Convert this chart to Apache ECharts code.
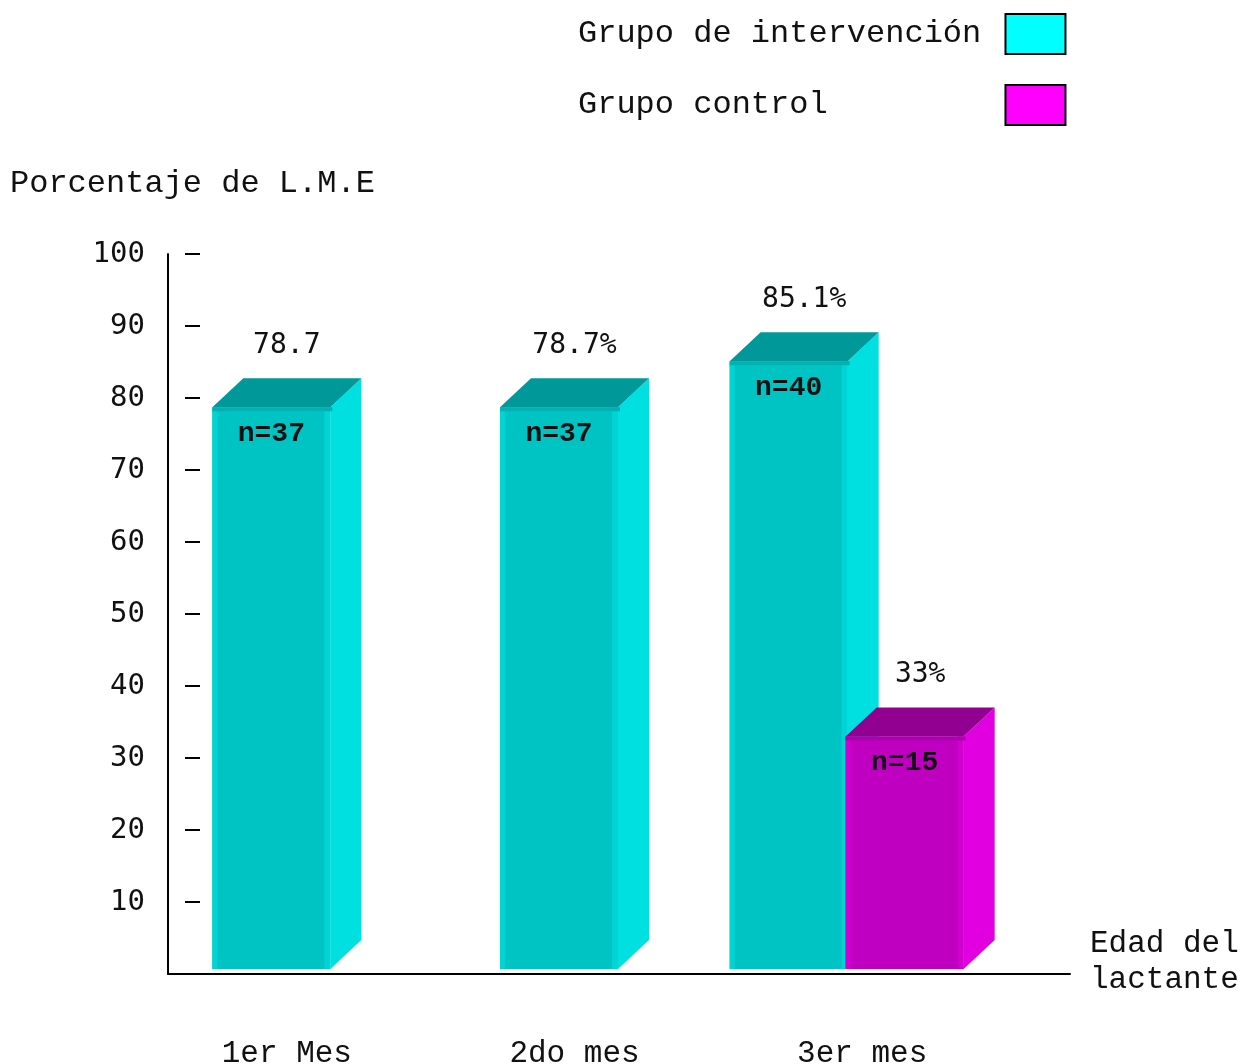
<!DOCTYPE html>
<html>
<head>
<meta charset="utf-8">
<script src="https://cdn.jsdelivr.net/npm/echarts@6/dist/echarts.min.js"></script>
<style>
  html, body { margin: 0; padding: 0; background: #fff; }
  #chart { width: 1248px; height: 1064px; }
</style>
</head>
<body>
<div id="chart"></div>
<script>
// datos
var categories = ['1er Mes', '2do mes', '3er mes'];
var intervencion = [78.7, 78.7, 85.1];
var control = [null, null, 33];
var intervLabels = ['78.7', '78.7%', '85.1%'];
var controlLabels = ['', '', '33%'];
var intervN = ['n=37', 'n=37', 'n=40'];
var controlN = ['', '', 'n=15'];
var yTicks = [10, 20, 30, 40, 50, 60, 70, 80, 90, 100];

var COURIER = "'Liberation Mono', 'Courier New', monospace";
var SANSMONO = "'DejaVu Sans Mono', monospace";
var INK = '#111';

// medidas de la barra 3D
var BW = 118, DX = 31, DY = 29, STEP = 116;

var cyan = { front: '#00C4C4', strip: '#00D4D4', top: '#009898', lip: '#00B2B2', side: '#00E0E0' };
var magenta = { front: '#C000C0', strip: '#D000D0', top: '#920092', lip: '#AE00AE', side: '#E000E0' };

function makeRender (pal, valueLabels, nLabels, isControl) {
    return function (params, api) {
        var i = api.value(0);
        var v = api.value(1);
        var base = api.coord([i, 0]);
        var top = api.coord([i, v]);
        var paired = control[i] != null;
        var x0;
        if (!paired) {
            x0 = base[0] - (BW + DX) / 2;
        } else {
            x0 = base[0] - (BW + STEP + DX) / 2;
            if (isControl) x0 += STEP;
        }
        var x1 = x0 + BW;
        var yT = top[1];
        var yB = base[1] - 5;
        return {
            type: 'group',
            children: [
                { type: 'rect', shape: { x: x0, y: yT, width: BW, height: yB - yT }, style: { fill: pal.front } },
                { type: 'rect', shape: { x: x0, y: yT, width: 5, height: yB - yT }, style: { fill: pal.strip } },
                { type: 'rect', shape: { x: x1 - 6, y: yT, width: 6, height: yB - yT }, style: { fill: pal.strip } },
                { type: 'polygon', shape: { points: [[x1, yT], [x1 + DX, yT - DY], [x1 + DX, yB - DY], [x1, yB]] }, style: { fill: pal.side } },
                { type: 'polygon', shape: { points: [[x0, yT], [x0 + DX, yT - DY], [x1 + DX, yT - DY], [x1, yT]] }, style: { fill: pal.top } },
                { type: 'rect', shape: { x: x0, y: yT, width: BW + 2, height: 4 }, style: { fill: pal.lip } },
                { type: 'text', style: {
                    text: valueLabels[i], x: (x0 + x1 + DX) / 2, y: yT - DY - 33,
                    align: 'center', verticalAlign: 'middle',
                    font: '28px ' + SANSMONO, fill: INK
                } },
                { type: 'text', style: {
                    text: nLabels[i], x: (x0 + x1) / 2, y: yT + 27,
                    align: 'center', verticalAlign: 'middle',
                    font: 'bold 28px ' + COURIER, fill: INK
                } }
            ]
        };
    };
}

var intervData = [];
for (var i = 0; i < intervencion.length; i++) {
    if (intervencion[i] != null) intervData.push([i, intervencion[i]]);
}
var controlData = [];
for (var j = 0; j < control.length; j++) {
    if (control[j] != null) controlData.push([j, control[j]]);
}

var chart = echarts.init(document.getElementById('chart'));
var option = {
    animation: false,
    backgroundColor: '#fff',
    title: {
        text: 'Porcentaje de L.M.E',
        left: 5,
        top: 163,
        textStyle: { fontFamily: COURIER, fontSize: 32, fontWeight: 'normal', color: INK }
    },
    legend: {
        orient: 'vertical',
        left: 573,
        top: 8,
        align: 'right',
        itemWidth: 60,
        itemHeight: 40,
        itemGap: 29,
        selectedMode: false,
        formatter: function (name) {
            var s = name;
            while (s.length < 22) s += ' ';
            return s;
        },
        textStyle: { fontFamily: COURIER, fontSize: 32, color: INK },
        data: [
            { name: 'Grupo de intervención', icon: 'rect', itemStyle: { color: '#00FFFF', borderColor: '#000', borderWidth: 2 } },
            { name: 'Grupo control', icon: 'rect', itemStyle: { color: '#FF00FF', borderColor: '#000', borderWidth: 2 } }
        ]
    },
    grid: [
        { left: 168, right: 178, top: 254, bottom: 90, outerBoundsMode: 'none' },
        { left: 143, right: 242, top: 254, bottom: 90, outerBoundsMode: 'none' }
    ],
    xAxis: [
        {
            gridIndex: 0,
            type: 'category',
            data: [''],
            axisLine: { lineStyle: { color: '#000', width: 2 } },
            axisTick: { show: false },
            axisLabel: { show: false },
            name: 'Edad del\nlactante',
            nameLocation: 'end',
            nameGap: 20,
            nameTextStyle: {
                fontFamily: COURIER, fontSize: 31, color: INK,
                align: 'left', verticalAlign: 'bottom', lineHeight: 36,
                padding: [0, 0, -24, 0]
            }
        },
        {
            gridIndex: 1,
            type: 'category',
            data: categories,
            axisLine: { show: false },
            axisTick: { show: false },
            axisLabel: { margin: 64, fontFamily: COURIER, fontSize: 31, color: INK }
        }
    ],
    yAxis: [
        {
            gridIndex: 0,
            type: 'value',
            min: 0,
            max: 100,
            interval: 10,
            axisLine: { show: true, lineStyle: { color: '#000', width: 2 } },
            axisTick: { show: false },
            splitLine: { show: false },
            axisLabel: { margin: 23, customValues: yTicks, fontFamily: SANSMONO, fontSize: 29, color: INK }
        },
        {
            gridIndex: 0,
            type: 'value',
            position: 'left',
            offset: -17,
            min: 0,
            max: 100,
            interval: 10,
            axisLine: { show: false },
            axisTick: { show: true, inside: true, length: 15, customValues: yTicks, lineStyle: { color: '#000', width: 2 } },
            axisLabel: { show: false },
            splitLine: { show: false }
        },
        {
            gridIndex: 1,
            type: 'value',
            min: 0,
            max: 100,
            show: false,
            splitLine: { show: false }
        }
    ],
    series: [
        {
            name: 'Grupo de intervención',
            type: 'custom',
            xAxisIndex: 1,
            yAxisIndex: 2,
            itemStyle: { color: '#00FFFF' },
            renderItem: makeRender(cyan, intervLabels, intervN, false),
            data: intervData
        },
        {
            name: 'Grupo control',
            type: 'custom',
            xAxisIndex: 1,
            yAxisIndex: 2,
            itemStyle: { color: '#FF00FF' },
            renderItem: makeRender(magenta, controlLabels, controlN, true),
            data: controlData
        }
    ]
};
chart.setOption(option);
</script>
</body>
</html>
